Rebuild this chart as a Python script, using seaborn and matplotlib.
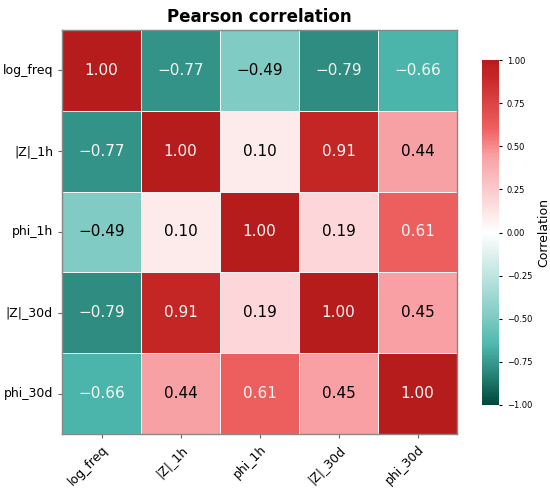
import numpy as np
import pandas as pd
import matplotlib
matplotlib.use("Agg")
import matplotlib.pyplot as plt
import seaborn as sns
from matplotlib.colors import LinearSegmentedColormap

# Data
labels = ["log_freq", "|Z|_1h", "phi_1h", "|Z|_30d", "phi_30d"]
row_log_freq = [1.00, -0.77, -0.49, -0.79, -0.66]
row_z_1h = [-0.77, 1.00, 0.10, 0.91, 0.44]
row_phi_1h = [-0.49, 0.10, 1.00, 0.19, 0.61]
row_z_30d = [-0.79, 0.91, 0.19, 1.00, 0.45]
row_phi_30d = [-0.66, 0.44, 0.61, 0.45, 1.00]
cbar_ticks = [-1.0, -0.75, -0.5, -0.25, 0.0, 0.25, 0.5, 0.75, 1.0]

corr = pd.DataFrame([row_log_freq, row_z_1h, row_phi_1h, row_z_30d, row_phi_30d],
                    index=labels, columns=labels)

# teal -> white -> red colormap
cmap = LinearSegmentedColormap.from_list("teal_red", [
    (0.0, "#00473b"),
    (0.1, "#2e8b80"),
    (0.17, "#4db6ac"),
    (0.255, "#80cbc4"),
    (0.5, "#ffffff"),
    (0.725, "#f8a0a3"),
    (0.8, "#ef6262"),
    (0.95, "#c62828"),
    (1.0, "#b71c1c"),
])

W, H = 550, 492
fig = plt.figure(figsize=(W / 100, H / 100), dpi=100)
ax = fig.add_axes([62 / W, 1 - 434 / H, 395 / W, 404 / H])
cax = fig.add_axes([482 / W, 1 - 405 / H, 17 / W, 345 / H])

sns.heatmap(corr, ax=ax, cbar_ax=cax, cmap=cmap, vmin=-1, vmax=1,
            annot=True, fmt=".2f", annot_kws={"fontsize": 11},
            linewidths=0.6, linecolor="#f4f4f4",
            cbar_kws={"label": "Correlation", "ticks": cbar_ticks})

# proper minus sign and text colour by magnitude
for txt, v in zip(ax.texts, corr.values.flatten()):
    txt.set_text(txt.get_text().replace("-", "\u2212"))
    txt.set_color("#f5f5f5" if abs(v) > 0.5 else "black")

for sp in ax.spines.values():
    sp.set_visible(True)
    sp.set_color("#888888")
    sp.set_linewidth(1)

ax.set_xticklabels(labels, rotation=45, ha="right", rotation_mode="anchor", fontsize=9)
ax.set_yticklabels(labels, rotation=0, fontsize=9)
ax.tick_params(length=3, color="#666666")
ax.set_title("Pearson correlation", fontsize=12, fontweight="bold", pad=6)

cax.tick_params(labelsize=6, length=2)
cax.yaxis.label.set_size(9)
cbar = ax.collections[0].colorbar
cbar.outline.set_edgecolor("#888888")
cbar.set_ticklabels([f"{t:.2f}".replace("-", "\u2212") for t in cbar_ticks])

fig.savefig("out.png", dpi=100)
